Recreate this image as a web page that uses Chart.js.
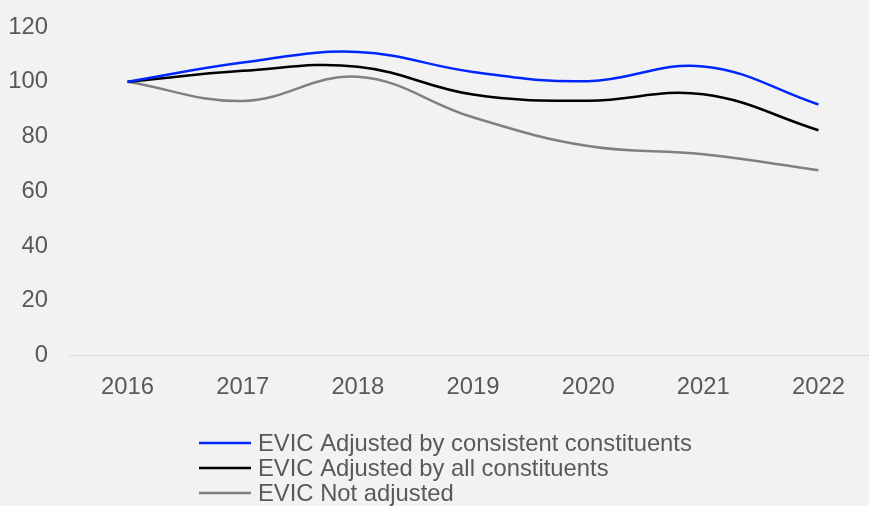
<!DOCTYPE html>
<html>
<head>
<meta charset="utf-8">
<script src="https://cdn.jsdelivr.net/npm/chart.js@4"></script>
<style>
  html, body { margin: 0; padding: 0; background: #f2f2f2; }
  #wrap { width: 869px; height: 506px; }
</style>
</head>
<body>
<div id="wrap"><canvas id="evicChart" width="869" height="506"></canvas></div>
<script>
const years = ['2016', '2017', '2018', '2019', '2020', '2021', '2022'];
const consistentAdj = [100, 107.0, 110.9, 103.6, 100.2, 105.6, 91.7];
const allAdj = [100, 104.0, 105.5, 95.3, 93.1, 95.4, 82.3];
const notAdj = [100, 93.0, 101.8, 87.0, 76.5, 73.5, 67.7];
const yTicks = [0, 20, 40, 60, 80, 100, 120];

const textColor = '#595959';
const fontFamily = 'Arial, "Liberation Sans", sans-serif';
const fontSize = 23.8;

// legend drawn as a left-aligned stacked block under the axis
const stackedLegend = {
    id: 'stackedLegend',
    afterDraw(chart) {
        const ctx = chart.ctx;
        const x0 = 199, lineLen = 52, gap = 7;
        const rowY = [443, 468, 493];
        ctx.save();
        ctx.font = fontSize + 'px ' + fontFamily;
        ctx.textBaseline = 'middle';
        ctx.textAlign = 'left';
        chart.data.datasets.forEach((ds, i) => {
            ctx.strokeStyle = ds.borderColor;
            ctx.lineWidth = ds.borderWidth;
            ctx.beginPath();
            ctx.moveTo(x0, rowY[i]);
            ctx.lineTo(x0 + lineLen, rowY[i]);
            ctx.stroke();
            ctx.fillStyle = textColor;
            ctx.fillText(ds.label, x0 + lineLen + gap, rowY[i] + 1);
        });
        ctx.restore();
    }
};

// the plot area runs a little past the right edge of the canvas
const bleedRight = {
    id: 'bleedRight',
    afterLayout(chart) {
        const extra = 7;
        const x = chart.scales.x;
        x.right += extra;
        x.width += extra;
        x.configure();
        chart.chartArea.right += extra;
        chart.chartArea.width += extra;
    }
};

// keep tick labels from pushing the plot area in
function noEdgePadding(scale) {
    scale.paddingTop = 0;
    scale.paddingBottom = 0;
    scale.paddingLeft = 0;
    scale.paddingRight = 0;
}

const ctx_evic = document.getElementById('evicChart').getContext('2d');
const evicChart = new Chart(ctx_evic, {
    type: 'line',
    data: {
        labels: years,
        datasets: [{
            label: 'EVIC Adjusted by consistent constituents',
            data: consistentAdj,
            borderColor: '#0026ff',
            borderWidth: 2.5,
            tension: 0.4,
            pointRadius: 0,
            fill: false
        }, {
            label: 'EVIC Adjusted by all constituents',
            data: allAdj,
            borderColor: '#000000',
            borderWidth: 2.5,
            tension: 0.4,
            pointRadius: 0,
            fill: false
        }, {
            label: 'EVIC Not adjusted',
            data: notAdj,
            borderColor: '#808080',
            borderWidth: 2.5,
            tension: 0.4,
            pointRadius: 0,
            fill: false
        }]
    },
    options: {
        responsive: false,
        maintainAspectRatio: false,
        animation: false,
        layout: { padding: { top: 27, right: 0, bottom: 86, left: 10 } },
        scales: {
            x: {
                offset: true,
                grid: { display: false, drawTicks: false },
                border: { display: true, color: '#d9d9d9', width: 1 },
                afterFit: noEdgePadding,
                ticks: {
                    color: textColor,
                    font: { size: fontSize, family: fontFamily },
                    padding: 18
                }
            },
            y: {
                min: 0,
                max: 120,
                afterBuildTicks(axis) {
                    axis.ticks = yTicks.map(v => ({ value: v }));
                },
                afterFit(scale) {
                    noEdgePadding(scale);
                    scale.width = 60;
                },
                grid: { display: false, drawTicks: false },
                border: { display: false },
                ticks: {
                    color: textColor,
                    font: { size: fontSize, family: fontFamily },
                    padding: 22
                }
            }
        },
        plugins: {
            legend: { display: false },
            tooltip: { enabled: false }
        }
    },
    plugins: [stackedLegend, bleedRight]
});
</script>
</body>
</html>
